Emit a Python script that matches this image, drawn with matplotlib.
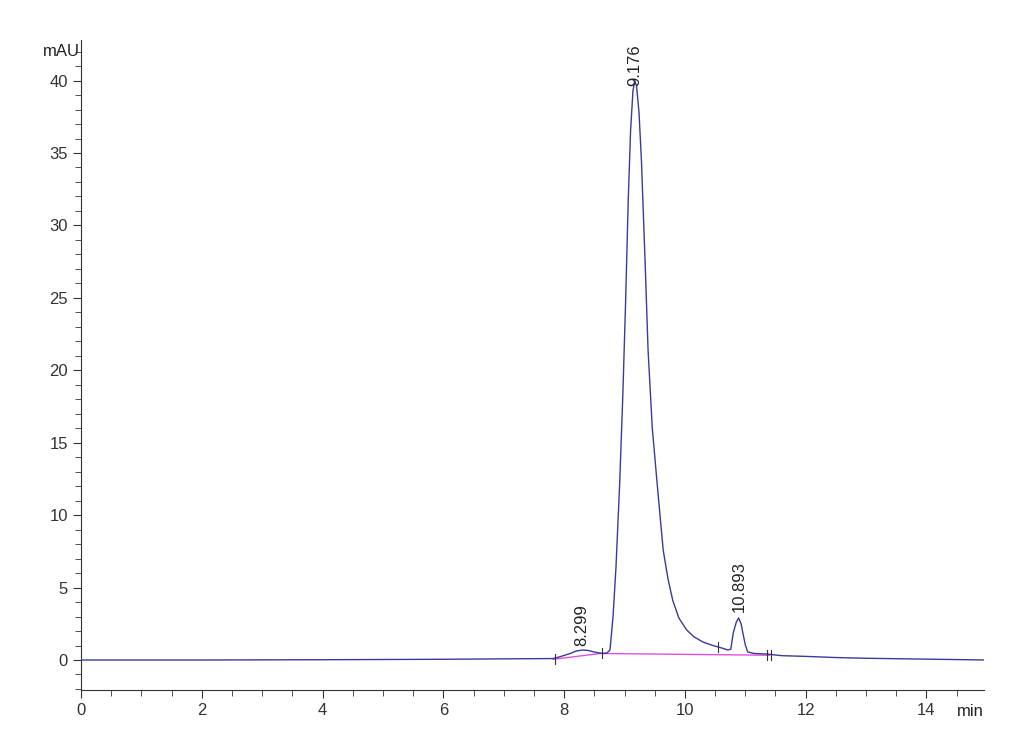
import matplotlib.pyplot as plt
import numpy as np
from matplotlib.ticker import MultipleLocator

plt.rcParams['font.family'] = ['Liberation Sans', 'DejaVu Sans']

# chromatogram trace (min, mAU)
time = [0.0, 2.0, 4.0, 6.0, 7.0, 7.82, 7.95, 8.1, 8.2, 8.3, 8.4, 8.5, 8.59, 8.65, 8.71,
        8.76, 8.81, 8.86, 8.92, 8.97, 9.02, 9.06, 9.10, 9.14, 9.17, 9.20, 9.24, 9.28,
        9.34, 9.39, 9.46, 9.54, 9.64, 9.72, 9.80, 9.90, 10.03, 10.15, 10.3, 10.45,
        10.55, 10.65, 10.71, 10.76, 10.8, 10.85, 10.89, 10.93, 10.96, 11.0, 11.04,
        11.15, 11.36, 11.6, 12.0, 12.5, 13.0, 14.0, 15.0]
signal = [0.0, 0.0, 0.02, 0.05, 0.08, 0.1, 0.25, 0.45, 0.62, 0.69, 0.66, 0.55, 0.48,
          0.46, 0.48, 0.7, 3.0, 6.5, 12.2, 18.0, 25.0, 31.5, 36.5, 39.3, 40.0, 39.6,
          37.8, 34.5, 27.6, 21.4, 16.0, 12.2, 7.6, 5.6, 4.1, 2.9, 2.07, 1.6, 1.24,
          1.02, 0.9, 0.78, 0.69, 0.75, 1.86, 2.6, 2.9, 2.5, 1.86, 1.05, 0.55, 0.45,
          0.41, 0.3, 0.25, 0.17, 0.12, 0.06, 0.0]

# integration baseline segments
base_t = [7.82, 8.6, 11.4]
base_y = [0.05, 0.45, 0.33]

# peak labels
peak_t = [8.299, 9.176, 10.893]
peak_y = [0.95, 39.6, 3.3]
peak_lbl = ['8.299', '9.176', '10.893']

# peak delimiter marks
mark_t = [7.85, 8.62, 10.55, 11.36, 11.42]
mark_y = [0.05, 0.47, 0.9, 0.36, 0.36]

fig = plt.figure(figsize=(10.3, 7.55), dpi=100)
ax = fig.add_axes([0.0786, 0.0861, 0.8766, 0.8609])

ax.plot(base_t, base_y, color='#e050e0', lw=1.0, zorder=2)
ax.plot(time, signal, color='#3a3a9c', lw=1.0, zorder=3)

for t, y in zip(mark_t, mark_y):
    ax.plot([t, t], [y - 0.35, y + 0.35], color='#333333', lw=0.8, zorder=4)

for t, y, s in zip(peak_t, peak_y, peak_lbl):
    ax.text(t, y, s, rotation=90, ha='center', va='bottom', fontsize=12, color='#222222')

ax.set_xlim(0, 14.95)
ax.set_ylim(-2.07, 42.8)
ax.xaxis.set_major_locator(MultipleLocator(2))
ax.xaxis.set_minor_locator(MultipleLocator(0.5))
ax.yaxis.set_minor_locator(MultipleLocator(1))
ax.set_yticks([0, 5, 10, 15, 20, 25, 30, 35, 40])

for side in ['top', 'right']:
    ax.spines[side].set_visible(False)
ax.spines['left'].set_color('#333333')
ax.spines['bottom'].set_color('#333333')
ax.tick_params(which='both', direction='out', colors='#333333', labelsize=12)
ax.tick_params(which='major', length=6)
ax.tick_params(which='minor', length=4)

ax.text(-0.02, 42.0, 'mAU', ha='right', va='center', fontsize=12, color='#222222')
ax.annotate('min', xy=(1.0, 0.0), xycoords='axes fraction', xytext=(0, -10),
            textcoords='offset points', ha='right', va='top', fontsize=12, color='#222222')

fig.savefig('out.png', dpi=100)
